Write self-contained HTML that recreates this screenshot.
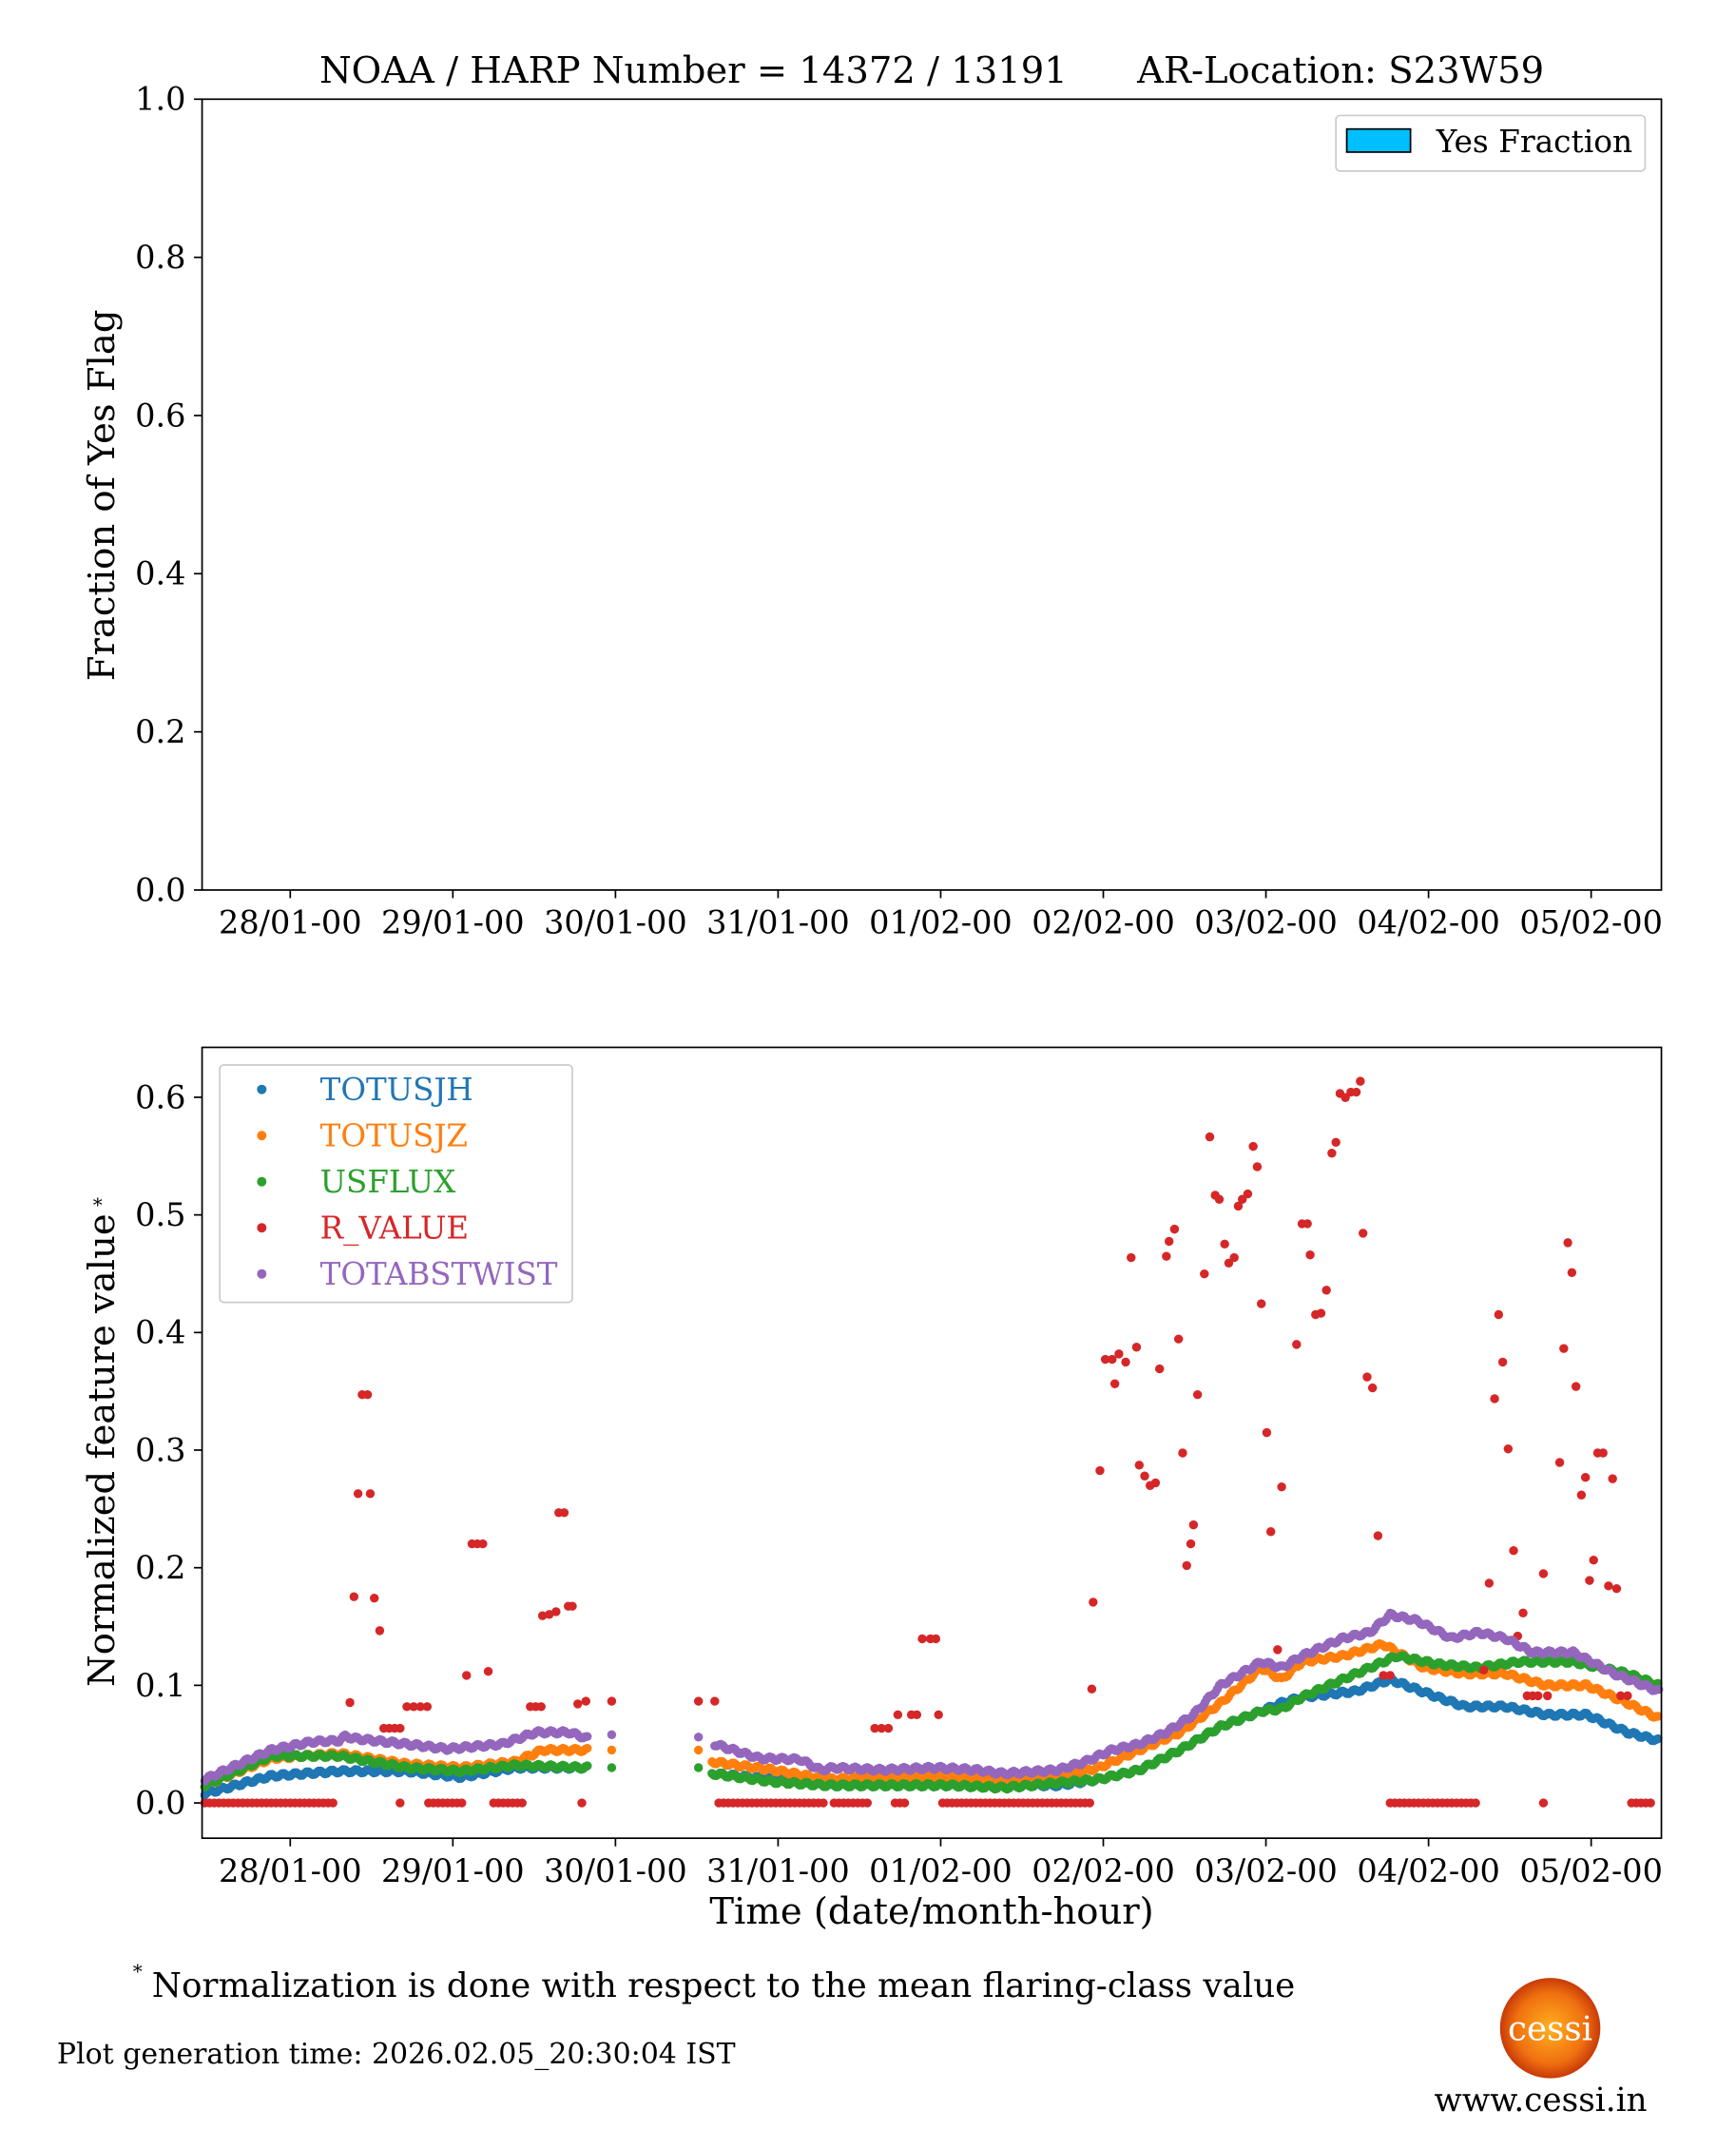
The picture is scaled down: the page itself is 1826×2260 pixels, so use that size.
<!DOCTYPE html>
<html><head><meta charset="utf-8"><style>
html,body{margin:0;padding:0;background:#fff;}
svg{display:block;}
text{font-family:"DejaVu Serif","Liberation Serif",serif;fill:#000;}
</style></head><body>
<svg id="s" width="1826" height="2260" viewBox="0 0 1280 1584" xmlns="http://www.w3.org/2000/svg">
<rect width="1280" height="1584" fill="#fff"/>
<text x="687" y="61" font-size="27" text-anchor="middle" xml:space="preserve">NOAA / HARP Number = 14372 / 13191      AR-Location: S23W59</text>
<g id="gtop"></g>
<g id="gbot"></g>
</svg>
<script>
(function(){
const NS="http://www.w3.org/2000/svg";
function el(p,t,a,txt){const e=document.createElementNS(NS,t);for(const k in a)e.setAttribute(k,a[k]);if(txt!==undefined)e.textContent=txt;p.appendChild(e);return e;}
const gt=document.getElementById('gtop'),gb=document.getElementById('gbot');
const L=149,R=1225,TF=23.5;
const dates=["28/01-00","29/01-00","30/01-00","31/01-00","01/02-00","02/02-00","03/02-00","04/02-00","05/02-00"];
function xticks(g,yb){dates.forEach((d,i)=>{const x=214+i*119.9;el(g,'line',{x1:x,x2:x,y1:yb,y2:yb+6,stroke:'#000','stroke-width':1.2});el(g,'text',{x:x,y:yb+32,'font-size':TF,'text-anchor':'middle'},d);});}
el(gt,'rect',{x:L,y:73,width:R-L,height:583,fill:'none',stroke:'#000','stroke-width':1.2});
for(let i=0;i<=5;i++){const y=656-i*116.6;el(gt,'line',{x1:L-6,x2:L,y1:y,y2:y,stroke:'#000','stroke-width':1.2});el(gt,'text',{x:L-12,y:y+8,'font-size':TF,'text-anchor':'end'},(i*0.2).toFixed(1));}
xticks(gt,656);
el(gt,'text',{x:84,y:365,'font-size':27,'text-anchor':'middle',transform:'rotate(-90 84 365)'},'Fraction of Yes Flag');
el(gt,'rect',{x:985,y:85,width:228,height:41,rx:3,fill:'#fff',stroke:'#ccc','stroke-width':1.2});
el(gt,'rect',{x:993,y:95,width:47,height:17,fill:'#00bfff',stroke:'#000','stroke-width':1.2});
el(gt,'text',{x:1059,y:112,'font-size':23},'Yes Fraction');
const Y0=1329,SC=867;const vy=v=>Y0-v*SC;
for(let i=0;i<=6;i++){const y=vy(i*0.1);el(gb,'line',{x1:L-6,x2:L,y1:y,y2:y,stroke:'#000','stroke-width':1.2});el(gb,'text',{x:L-12,y:y+8,'font-size':TF,'text-anchor':'end'},(i*0.1).toFixed(1));}
xticks(gb,1355);
el(gb,'text',{x:687,y:1418,'font-size':27,'text-anchor':'middle'},'Time (date/month-hour)');
el(gb,'text',{x:84,y:1069,'font-size':27,'text-anchor':'middle',transform:'rotate(-90 84 1069)'},'Normalized feature value');
el(gb,'text',{x:72,y:893,'font-size':14,'text-anchor':'middle'},'*');
const dots=el(gb,'g',{});
function interp(k,x){for(let i=0;i<k.length-1;i++){if(x>=k[i][0]&&x<=k[i+1][0]){const t=(x-k[i][0])/(k[i+1][0]-k[i][0]);return k[i][1]+t*(k[i+1][1]-k[i][1]);}}return 0;}
function series(k1,k2,extra,col){
 [k1,k2].forEach(k=>{for(let x=k[0][0];x<=k[k.length-1][0];x+=1.5){const v=interp(k,x)+Math.sin(x*0.7)*0.0015;el(dots,'circle',{cx:x,cy:vy(v),r:3.3,fill:col});}});
 extra.forEach(p=>el(dots,'circle',{cx:p[0],cy:vy(p[1]),r:3.3,fill:col}));
}
const blue1=[[151,0.008],[200,0.023],[250,0.027],[300,0.027],[340,0.022],[380,0.03],[433,0.03]],
blue2=[[525,0.025],[570,0.02],[610,0.015],[700,0.015],[780,0.015],[810,0.02],[840,0.028],[870,0.045],[900,0.065],[930,0.078],[945,0.085],[960,0.09],[1000,0.095],[1025,0.105],[1060,0.09],[1080,0.082],[1110,0.082],[1140,0.075],[1170,0.075],[1200,0.06],[1223,0.053]];
const or1=[[151,0.015],[200,0.038],[250,0.042],[300,0.033],[340,0.03],[380,0.035],[400,0.045],[433,0.045]],
or2=[[525,0.035],[570,0.028],[610,0.02],[650,0.022],[700,0.022],[740,0.02],[780,0.022],[810,0.03],[840,0.045],[870,0.06],[900,0.085],[930,0.115],[945,0.105],[960,0.12],[990,0.125],[1020,0.135],[1050,0.115],[1080,0.11],[1110,0.11],[1140,0.1],[1170,0.1],[1200,0.085],[1223,0.072]];
const gr1=[[151,0.015],[200,0.04],[250,0.04],[300,0.03],[340,0.027],[380,0.032],[433,0.03]],
gr2=[[525,0.025],[570,0.018],[610,0.015],[650,0.015],[700,0.015],[740,0.013],[780,0.017],[810,0.02],[840,0.028],[870,0.045],[900,0.065],[930,0.078],[945,0.08],[960,0.09],[1000,0.11],[1030,0.125],[1060,0.118],[1090,0.115],[1120,0.12],[1160,0.12],[1200,0.11],[1223,0.1]];
const pu1=[[151,0.02],[180,0.035],[200,0.045],[230,0.052],[250,0.053],[255,0.057],[260,0.055],[300,0.05],[330,0.046],[370,0.05],[395,0.06],[420,0.06],[433,0.055]],
pu2=[[527,0.05],[560,0.038],[590,0.037],[605,0.028],[615,0.03],[650,0.028],[690,0.03],[720,0.028],[740,0.025],[780,0.028],[800,0.035],[820,0.045],[840,0.05],[860,0.06],[880,0.075],[900,0.1],[930,0.12],[945,0.115],[960,0.125],[990,0.14],[1010,0.145],[1025,0.16],[1045,0.155],[1070,0.14],[1090,0.145],[1110,0.14],[1130,0.128],[1160,0.128],[1190,0.11],[1223,0.095]];
series(blue1,blue2,[],'#1f77b4');
series(or1,or2,[[451,0.045],[515,0.045]],'#ff7f0e');
series(gr1,gr2,[[451,0.03],[515,0.03]],'#2ca02c');
const zs=[[151,248],[295,297],[316,343],[364,388],[429,429],[530,608],[615,640],[660,670],[695,805],[1025,1090],[1138,1138],[1203,1220]];
zs.forEach(z=>{for(let x=z[0];x<=z[1];x+=3.5)el(dots,'circle',{cx:x,cy:Y0,r:3.3,fill:'#d62728'});});
const rp=[[258,1255],[261,1177],[264,1101],[267,1028],[271,1028],[273,1101],[276,1178],[280,1202],[283,1274],[287,1274],[291,1274],[295,1274],[300,1258],[305,1258],[310,1258],[315,1258],[344,1235],[348,1138],[352,1138],[356,1138],[360,1232],[391,1258],[395,1258],[399,1258],[400,1191],[405,1190],[410,1188],[412,1115],[416,1115],[419,1184],[422,1184],[426,1256],[432,1254],[451,1254],[515,1254],[527,1254],[645,1274],[650,1274],[655,1274],[662,1264],[672,1264],[676,1264],[680,1208],[686,1208],[690,1208],[692,1264],[806,1181],[805,1245],[811,1084],[815,1002],[820,1002],[822,1020],[825,998],[830,1004],[834,927],[838,993],[840,1080],[844,1088],[848,1095],[852,1093],[855,1009],[860,926],[862,915],[866,906],[869,987],[872,1071],[875,1154],[878,1138],[880,1124],[883,1028],[888,939],[892,838],[896,881],[899,884],[903,917],[906,931],[910,927],[913,889],[916,884],[920,880],[924,845],[927,860],[930,961],[934,1056],[937,1129],[942,1216],[945,1096],[956,991],[960,902],[964,902],[966,925],[970,969],[974,968],[978,951],[982,850],[985,842],[988,806],[992,809],[996,805],[1000,805],[1003,797],[1005,909],[1008,1015],[1012,1023],[1016,1132],[1020,1235],[1025,1235],[1094,1231],[1098,1167],[1102,1031],[1105,969],[1108,1004],[1112,1068],[1116,1143],[1119,1206],[1123,1189],[1126,1250],[1130,1250],[1134,1250],[1138,1160],[1141,1250],[1150,1078],[1153,994],[1156,916],[1159,938],[1162,1022],[1166,1102],[1169,1089],[1172,1165],[1175,1150],[1178,1071],[1182,1071],[1186,1169],[1189,1090],[1192,1171],[1195,1250],[1200,1250]];
rp.forEach(p=>el(dots,'circle',{cx:p[0],cy:p[1],r:3.3,fill:'#d62728'}));
series(pu1,pu2,[[451,0.058],[515,0.056]],'#9467bd');
el(gb,'rect',{x:L,y:772,width:R-L,height:583,fill:'none',stroke:'#000','stroke-width':1.2});
el(gb,'rect',{x:162,y:785,width:260,height:175,rx:3,fill:'#fff','fill-opacity':0.85,stroke:'#ccc','stroke-width':1.2});
[['TOTUSJH','#1f77b4'],['TOTUSJZ','#ff7f0e'],['USFLUX','#2ca02c'],['R_VALUE','#d62728'],['TOTABSTWIST','#9467bd']].forEach((s,i)=>{const y=803+i*34;el(gb,'circle',{cx:193,cy:y,r:3.5,fill:s[1]});el(gb,'text',{x:236,y:y+8,'font-size':22.8,style:'fill:'+s[1]},s[0]);});
el(gb,'text',{x:98,y:1458,'font-size':14},'*');
el(gb,'text',{x:112,y:1472,'font-size':25},'Normalization is done with respect to the mean flaring-class value');
el(gb,'text',{x:42,y:1521,'font-size':21},'Plot generation time: 2026.02.05_20:30:04 IST');
const defs=el(gb,'defs',{});const rg=el(defs,'radialGradient',{id:'sun'});
el(rg,'stop',{offset:'0','stop-color':'#ffb020'});el(rg,'stop',{offset:'0.7','stop-color':'#f07010'});el(rg,'stop',{offset:'1','stop-color':'#c83a08'});
el(gb,'circle',{cx:1143,cy:1495,r:37,fill:'url(#sun)'});
el(gb,'text',{x:1143,y:1504,'font-size':25,'text-anchor':'middle',style:'fill:#fff'},'cessi');
el(gb,'text',{x:1136,y:1556,'font-size':24,'text-anchor':'middle'},'www.cessi.in');
})();
</script>
</body></html>
